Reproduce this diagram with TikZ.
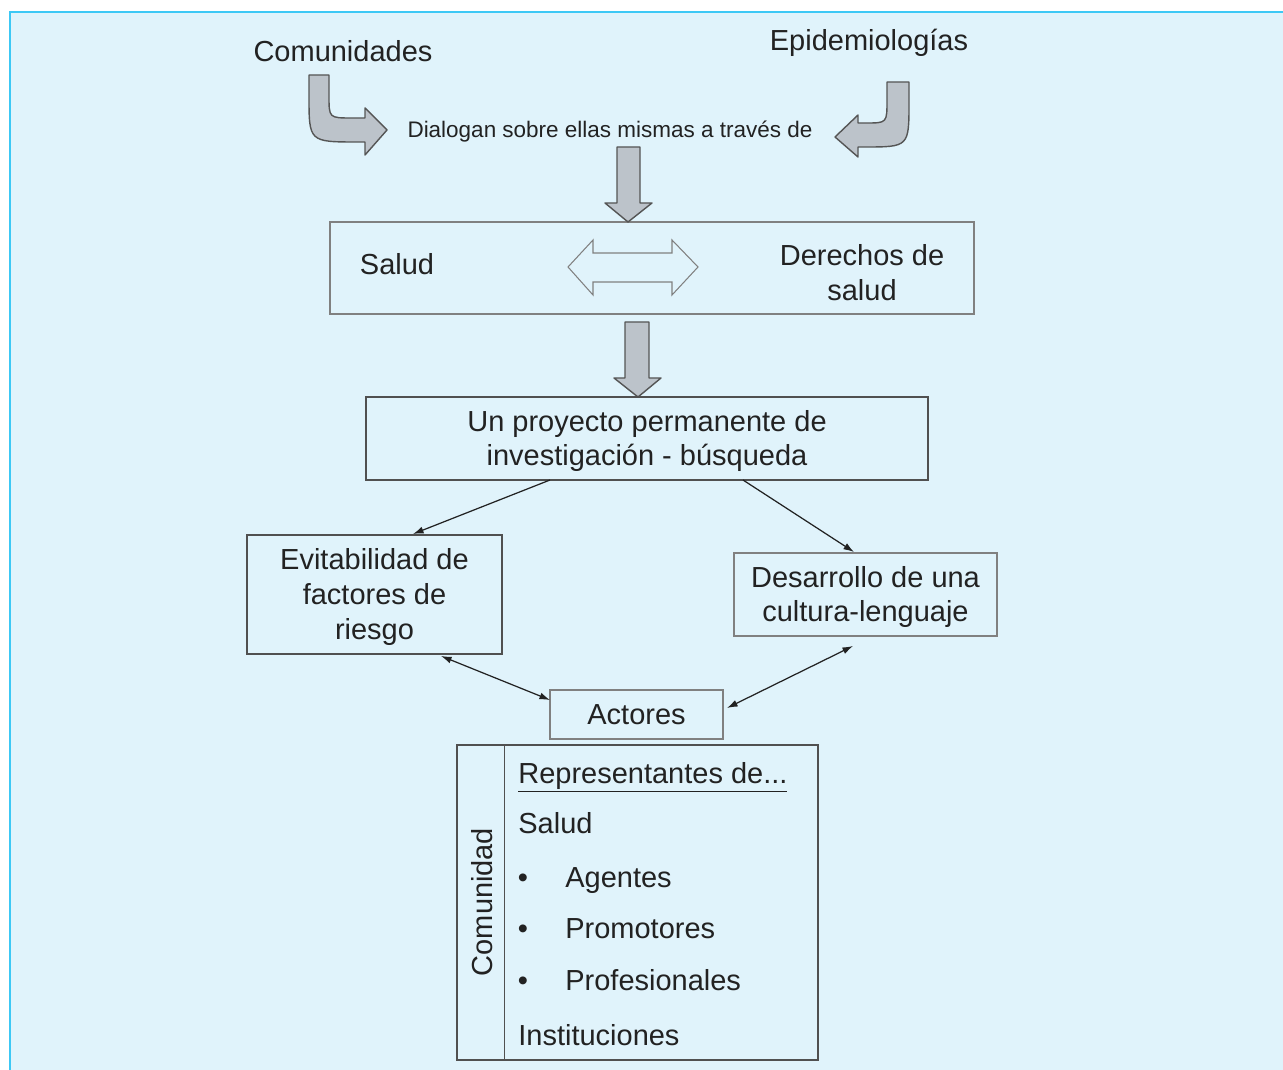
\documentclass[tikz,border=0pt]{standalone}
\usepackage{fontspec}
\setmainfont{Liberation Sans}
\usetikzlibrary{arrows.meta,calc}
\definecolor{bgc}{HTML}{E0F3FB}
\definecolor{framec}{HTML}{3CC8F5}
\definecolor{arrfill}{HTML}{BCC3CA}
\definecolor{arrline}{HTML}{555555}
\definecolor{boxline}{HTML}{505050}
\definecolor{lightline}{HTML}{808080}
\definecolor{txt}{HTML}{222222}
\begin{document}
\begin{tikzpicture}[x=0.02cm,y=-0.02cm,
  every node/.style={text=txt, font=\fontsize{16.5}{19.8}\selectfont},
  box/.style={draw=boxline, line width=0.7pt, inner sep=0pt, align=center},
  lbl/.style={inner sep=0pt, align=center},
  bigarrow/.style={fill=arrfill, draw=arrline, line width=0.8pt, line join=round},
  onehead/.style={draw=txt, line width=0.7pt, -{Latex[length=6pt,width=4pt]}},
  twohead/.style={draw=txt, line width=0.7pt, {Latex[length=6pt,width=4pt]}-{Latex[length=6pt,width=4pt]}}]

\useasboundingbox (0,0) rectangle (1283,1070);
\fill[white] (0,0) rectangle (1283,1070);
\fill[bgc] (10,12) rectangle (1283,1070);
\draw[framec, line width=1.4pt] (10,1070) -- (10,12) -- (1283,12);

% top texts
\node[lbl] (comu) at (343,51) {Comunidades};
\node[lbl] (epi) at (869,43) {Epidemiologías};
\node[lbl, font=\fontsize{12.8}{15}\selectfont] (dia) at (610,132) {Dialogan sobre ellas mismas a través de};

% curved arrows
\draw[bigarrow] (309,75) -- (329,75) -- (329,96) .. controls (329,118) .. (352,118)
  -- (365,118) -- (365,108) -- (387,130) -- (365,155) -- (365,142) -- (358,142)
  .. controls (309,142) .. (309,96) -- cycle;
\draw[bigarrow] (909,82) -- (887,82) -- (887,100) .. controls (887,123) .. (866,123)
  -- (858,123) -- (858,115) -- (835,137) -- (858,157) -- (858,147) -- (864,147)
  .. controls (909,147) .. (909,102) -- cycle;

% box 1
\node[box, draw=lightline, minimum width=12.88cm, minimum height=1.84cm] (b1) at (652,268) {};
\node[lbl] (salud) at (397,264) {Salud};
\node[lbl] (der) at (862,273) {Derechos de\\salud};
\draw[bigarrow] (617,147) -- (640,147) -- (640,203) -- (652,203) -- (628,222) -- (605,203) -- (617,203) -- cycle;
\draw[draw=lightline, line width=0.6pt, fill=bgc] (568,267) -- (593,240) -- (593,253) -- (672,253) -- (672,240)
  -- (698,267) -- (672,295) -- (672,282) -- (593,282) -- (593,295) -- cycle;

% box 2
\draw[bigarrow] (625,322) -- (649,322) -- (649,378) -- (661,378) -- (638,397) -- (614,378) -- (625,378) -- cycle;
\node[box, minimum width=11.24cm, minimum height=1.66cm] (b2) at (647,438.5) {};
\node[lbl] (b2t) at (647,441) {Un proyecto permanente de\\investigación - búsqueda};

% boxes 3 and 4
\node[box, minimum width=5.1cm, minimum height=2.38cm] (b3) at (374.5,594.5) {};
\node[lbl] (b3t) at (374.5,597) {Evitabilidad de\\factores de\\riesgo};
\node[box, draw=lightline, minimum width=5.26cm, minimum height=1.66cm] (b4) at (865.5,594.5) {};
\node[lbl] (b4t) at (865.5,597) {Desarrollo de una\\cultura-lenguaje};

% actores
\node[box, draw=lightline, minimum width=3.46cm, minimum height=0.98cm] (act) at (636.5,714.5) {Actores};

% thin arrows
\coordinate (s1) at (550,480);
\coordinate (e1) at (413,534);
\coordinate (s2) at (743,480);
\coordinate (e2) at (854,552);
\coordinate (s3) at (441,656);
\coordinate (e3) at (550,700);
\coordinate (s4) at (853,646);
\coordinate (e4) at (727,708);
\draw[onehead] (s1) -- (e1);
\draw[onehead] (s2) -- (e2);
\draw[twohead] (s3) -- (e3);
\draw[twohead] (s4) -- (e4);

% big box
\node[box, minimum width=7.22cm, minimum height=6.3cm] (big) at (637.5,902.5) {};
\draw[draw=boxline, line width=1pt] ($(big.north west)+(48,0)$) coordinate (dtop) -- ($(big.south west)+(48,0)$) coordinate (dbot);
\node[rotate=90, anchor=base, inner sep=0pt] (comd) at (492,902) {Comunidad};
\node[anchor=base west, inner sep=0pt] (rep) at (518,783) {\underline{Representantes de...}};
\node[anchor=base west, inner sep=0pt] (sal2) at (518,833) {Salud};
\node[anchor=base, inner sep=0pt] (bu1) at (523,887) {\textbullet};
\node[anchor=base west, inner sep=0pt] (age) at (565,887) {Agentes};
\node[anchor=base, inner sep=0pt] (bu2) at (523,938) {\textbullet};
\node[anchor=base west, inner sep=0pt] (pro) at (565,938) {Promotores};
\node[anchor=base, inner sep=0pt] (bu3) at (523,990) {\textbullet};
\node[anchor=base west, inner sep=0pt] (prf) at (565,990) {Profesionales};
\node[anchor=base west, inner sep=0pt] (ins) at (518,1045) {Instituciones};
\end{tikzpicture}
\end{document}
